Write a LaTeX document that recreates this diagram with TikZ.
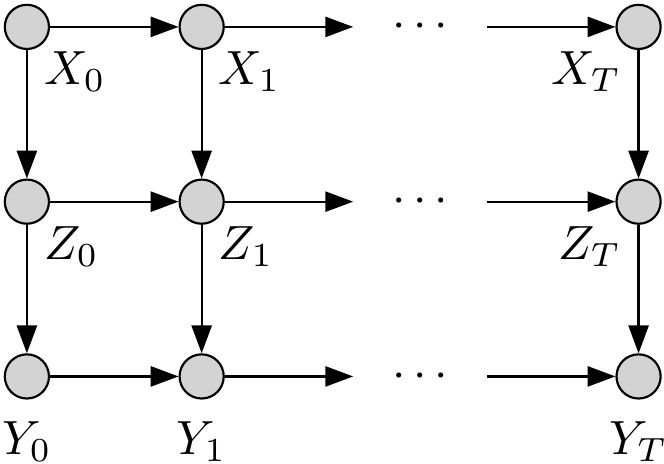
\documentclass[tikz,border=0pt]{standalone}
\usetikzlibrary{arrows.meta}
\definecolor{nodegray}{HTML}{D3D3D3}

\begin{document}
\begin{tikzpicture}[x=36.4pt, y=36.4pt,
    var/.style={circle, draw, fill=nodegray, line width=0.45pt, minimum size=9.2pt, inner sep=0pt},
    lblse/.style={inner sep=0pt, yshift=-1.5pt},
    lblsw/.style={inner sep=0pt, yshift=-1.5pt},
    lbls/.style={inner sep=0pt, label distance=4.4pt},
    dots/.style={inner sep=0pt, minimum width=27.5pt},
    edge/.style={-{Triangle[length=5.8pt,width=4.2pt]}, line width=0.45pt}]

    % Fix the margins
    \useasboundingbox (-5.6pt,5.6pt) rectangle (132.7pt,-90.9pt);

    % Draw the top row of variables
    \node[var, label={[lblse, name=lx0]-45:$X_0$}] (x0) at (0,0) {};
    \node[var, label={[lblse, name=lx1]-45:$X_1$}] (x1) at (1,0) {};
    \node[dots] (xd) at (2.25,0) {$\cdots$};
    \node[var, label={[lblsw, name=lxt]-135:$X_T$}] (xt) at (3.5,0) {};

    % Draw the middle row of variables
    \node[var, label={[lblse, name=lz0]-45:$Z_0$}] (z0) at (0,-1) {};
    \node[var, label={[lblse, name=lz1]-45:$Z_1$}] (z1) at (1,-1) {};
    \node[dots] (zd) at (2.25,-1) {$\cdots$};
    \node[var, label={[lblsw, name=lzt]-135:$Z_T$}] (zt) at (3.5,-1) {};

    % Draw the bottom row of variables
    \node[var, label={[lbls, name=ly0]below:$Y_0$}] (y0) at (0,-2) {};
    \node[var, label={[lbls, name=ly1]below:$Y_1$}] (y1) at (1,-2) {};
    \node[dots] (yd) at (2.25,-2) {$\cdots$};
    \node[var, label={[lbls, name=lyt]below:$Y_T$}] (yt) at (3.5,-2) {};

    % Draw the arrows along each row
    \draw[edge] (x0) -- (x1);
    \draw[edge] (x1) -- (xd);
    \draw[edge] (xd) -- (xt);
    \draw[edge] (z0) -- (z1);
    \draw[edge] (z1) -- (zd);
    \draw[edge] (zd) -- (zt);
    \draw[edge] (y0) -- (y1);
    \draw[edge] (y1) -- (yd);
    \draw[edge] (yd) -- (yt);

    % Draw the arrows down each column
    \draw[edge] (x0) -- (z0);
    \draw[edge] (z0) -- (y0);
    \draw[edge] (x1) -- (z1);
    \draw[edge] (z1) -- (y1);
    \draw[edge] (xt) -- (zt);
    \draw[edge] (zt) -- (yt);

\end{tikzpicture}
\end{document}
